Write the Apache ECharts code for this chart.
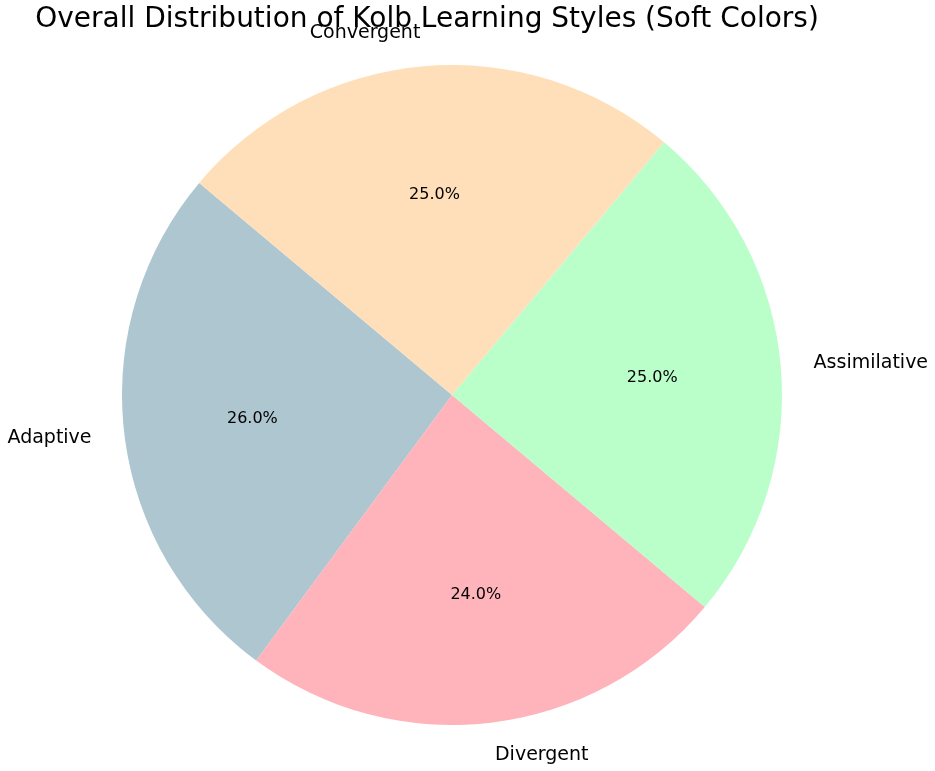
<!DOCTYPE html>
<html>
<head>
<meta charset="utf-8">
<script src="https://cdn.jsdelivr.net/npm/echarts@6/dist/echarts.min.js"></script>
<style>html,body{margin:0;padding:0;background:#fff;}#c{width:935px;height:771px;}</style>
</head>
<body>
<div id="c"></div>
<script>
const titleText = 'Overall Distribution of Kolb Learning Styles (Soft Colors)';
const categories = ['Adaptive', 'Divergent', 'Assimilative', 'Convergent'];
const values = [26.0, 24.0, 25.0, 25.0];
const colors = ['#AEC6CF', '#FFB3BA', '#BAFFC9', '#FFDFBA'];

const R = 330;
const CX = 452, CY = 395;
const font = 'DejaVu Sans';
const data = categories.map((c, i) => ({ name: c, value: values[i], itemStyle: { color: colors[i] } }));
const total = values.reduce((a, b) => a + b, 0);

const chart = echarts.init(document.getElementById('c'), null, { renderer: 'canvas' });
chart.setOption({
  backgroundColor: '#ffffff',
  animation: false,
  title: {
    text: titleText,
    left: 422,
    textAlign: 'center',
    top: 1,
    textStyle: { fontFamily: font, fontSize: 28, fontWeight: 'normal', color: '#000' }
  },
  series: [
    {
      type: 'pie',
      center: [CX, CY],
      radius: [0, R],
      startAngle: 140,
      clockwise: false,
      avoidLabelOverlap: false,
      silent: true,
      data: data,
      label: {
        show: true,
        position: 'outside',
        distanceToLabelLine: 0,
        formatter: '{b}',
        fontFamily: font,
        fontSize: 19,
        color: '#000'
      },
      labelLine: { show: false, length: R * 0.1, length2: 0 }
    },
    {
      type: 'pie',
      center: [CX, CY],
      radius: [R * 0.2, R],
      startAngle: 140,
      clockwise: false,
      avoidLabelOverlap: false,
      silent: true,
      data: data.map(d => ({ name: d.name, value: d.value, itemStyle: { color: 'rgba(0,0,0,0)' } })),
      label: {
        show: true,
        position: 'inside',
        formatter: p => (p.value / total * 100).toFixed(1) + '%',
        fontFamily: font,
        fontSize: 16,
        color: '#000'
      },
      labelLine: { show: false }
    }
  ]
});
</script>
</body>
</html>
